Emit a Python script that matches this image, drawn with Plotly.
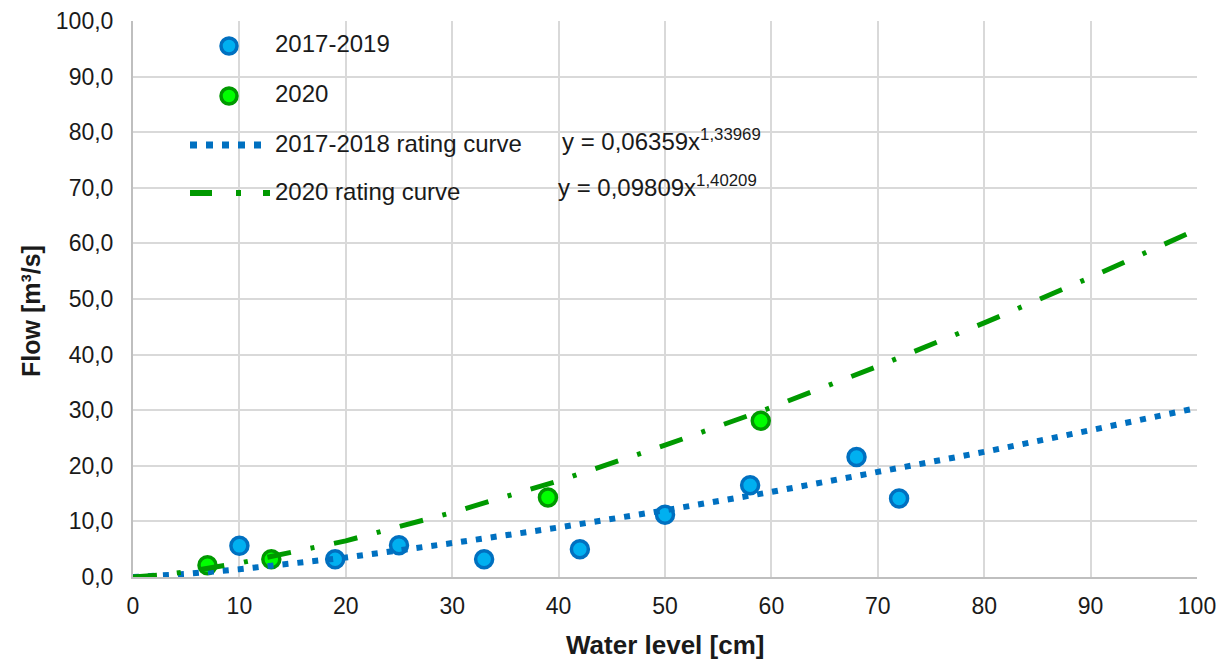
import plotly.graph_objects as go

# ---- data ----
obs_1719_x = [10, 19, 25, 33, 42, 50, 58, 68, 72]
obs_1719_y = [5.6, 3.2, 5.7, 3.2, 5.0, 11.2, 16.5, 21.6, 14.1]

obs_2020_x = [7, 13, 39, 59]
obs_2020_y = [2.1, 3.2, 14.3, 28.1]

curve_x = [0, 2.5, 5, 10, 20, 30, 40, 50, 60, 70, 80, 90, 100]
curve_1718_y = [0.0, 0.22, 0.55, 1.4, 3.5, 6.1, 8.9, 12.0, 15.3, 18.9, 22.5, 26.4, 30.4]
curve_2020_y = [0.0, 0.35, 0.94, 2.5, 6.5, 11.6, 17.3, 23.7, 30.5, 37.9, 45.7, 53.9, 62.5]

legend_labels = ["2017-2019", "2020", "2017-2018 rating curve", "2020 rating curve"]
eq_1718 = "y = 0,06359x<sup>1,33969</sup>"
eq_2020 = "y = 0,09809x<sup>1,40209</sup>"
x_title = "<b>Water level [cm]</b>"
y_title = "<b>Flow [m³/s]</b>"

x_ticks = [0, 10, 20, 30, 40, 50, 60, 70, 80, 90, 100]
y_ticks = [0, 10, 20, 30, 40, 50, 60, 70, 80, 90, 100]

# ---- styles ----
BLUE_FILL = "#00B0F0"
BLUE_EDGE = "#0070C0"
GREEN_FILL = "#00FF00"
GREEN_EDGE = "#009900"
FONT = "Liberation Sans, Arial, sans-serif"
TXT = "#1a1a1a"

fig = go.Figure()

fig.add_trace(go.Scatter(
    x=obs_1719_x, y=obs_1719_y, mode="markers", name=legend_labels[0],
    marker=dict(size=17, color=BLUE_FILL, line=dict(color=BLUE_EDGE, width=3.5)),
    showlegend=False))
fig.add_trace(go.Scatter(
    x=obs_2020_x, y=obs_2020_y, mode="markers", name=legend_labels[1],
    marker=dict(size=17, color=GREEN_FILL, line=dict(color=GREEN_EDGE, width=3.5)),
    showlegend=False))
fig.add_trace(go.Scatter(
    x=curve_x, y=curve_1718_y, mode="lines", name=legend_labels[2],
    line=dict(color=BLUE_EDGE, width=6, dash="6px,9px"),
    showlegend=False))
fig.add_trace(go.Scatter(
    x=curve_x, y=curve_2020_y, mode="lines", name=legend_labels[3],
    line=dict(color=GREEN_EDGE, width=5, dash="24px,20px,4px,20px"),
    showlegend=False))

# ---- custom legend (paper coords) ----
L, R, T, B = 133, 33, 21, 86
W, H = 1230 - L - R, 663 - T - B

def px(x):
    return (x - L) / W

def py(y):
    return (663 - B - y) / H

shapes = []
for cy, fill, edge in [(46, BLUE_FILL, BLUE_EDGE), (96, GREEN_FILL, GREEN_EDGE)]:
    shapes.append(dict(type="circle", xref="paper", yref="paper",
                       xsizemode="pixel", ysizemode="pixel",
                       xanchor=px(229), yanchor=py(cy),
                       x0=-8, x1=8, y0=-8, y1=8,
                       fillcolor=fill, line=dict(color=edge, width=3.5)))
shapes.append(dict(type="line", xref="paper", yref="paper",
                   x0=px(190), x1=px(268), y0=py(145), y1=py(145),
                   line=dict(color=BLUE_EDGE, width=7, dash="7px,9px")))
shapes.append(dict(type="line", xref="paper", yref="paper",
                   x0=px(190), x1=px(270), y0=py(193), y1=py(193),
                   line=dict(color=GREEN_EDGE, width=6, dash="22px,24px,5px,22px")))

annotations = []
for label, cy in zip(legend_labels, [44, 94, 143, 191]):
    annotations.append(dict(text=label, xref="paper", yref="paper",
                            x=px(273), y=py(cy), xanchor="left", yanchor="middle",
                            showarrow=False, font=dict(family=FONT, size=24, color=TXT)))
annotations.append(dict(text=eq_1718, xref="paper", yref="paper",
                        x=px(560), y=py(140), xanchor="left", yanchor="middle",
                        showarrow=False, font=dict(family=FONT, size=24, color=TXT)))
annotations.append(dict(text=eq_2020, xref="paper", yref="paper",
                        x=px(556), y=py(186), xanchor="left", yanchor="middle",
                        showarrow=False, font=dict(family=FONT, size=24, color=TXT)))
annotations.append(dict(text=x_title, xref="paper", yref="paper",
                        x=px(665), y=py(645), xanchor="center", yanchor="middle",
                        showarrow=False, font=dict(family=FONT, size=26, color=TXT)))
annotations.append(dict(text=y_title, xref="paper", yref="paper",
                        x=px(31), y=py(311), xanchor="center", yanchor="middle",
                        textangle=-90,
                        showarrow=False, font=dict(family=FONT, size=25, color=TXT)))

fig.update_layout(
    width=1230, height=663,
    margin=dict(l=L, r=R, t=T, b=B, autoexpand=False),
    paper_bgcolor="white", plot_bgcolor="white",
    separators=", ",
    font=dict(family=FONT, size=23, color=TXT),
    shapes=shapes, annotations=annotations,
    showlegend=False,
)
fig.update_xaxes(
    range=[0, 100], tickvals=x_ticks, tickformat="d", automargin=False,
    showgrid=True, gridcolor="#D9D9D9", gridwidth=2,
    showline=True, linecolor="#BFBFBF", linewidth=2,
    zeroline=False, ticks="outside", ticklen=7, tickcolor="rgba(0,0,0,0)",
    tickfont=dict(family=FONT, size=23, color=TXT),
)
fig.update_yaxes(
    range=[0, 100], tickvals=y_ticks, tickformat=".1f", automargin=False,
    showgrid=True, gridcolor="#D9D9D9", gridwidth=2,
    showline=True, linecolor="#BFBFBF", linewidth=2,
    zeroline=False, ticks="outside", ticklen=13, tickcolor="rgba(0,0,0,0)",
    tickfont=dict(family=FONT, size=23, color=TXT),
)

fig.write_html("out.html")
